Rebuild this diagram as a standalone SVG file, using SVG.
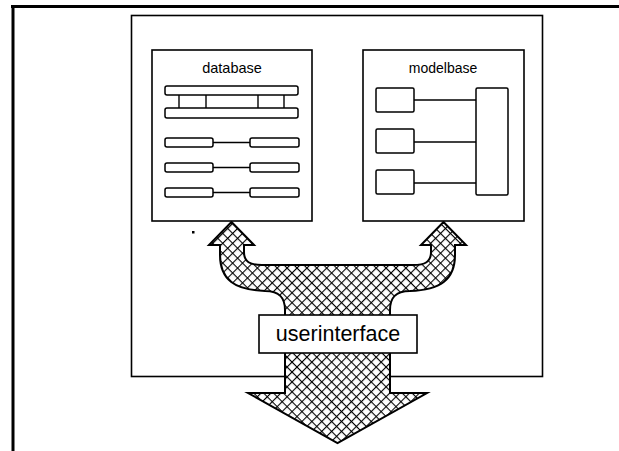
<svg xmlns="http://www.w3.org/2000/svg" width="619" height="451" viewBox="0 0 619 451">
<style>
.box{fill:#fff;stroke:#000;stroke-width:1.6}
.bar{fill:#fff;stroke:#000;stroke-width:1.5}
.ln{stroke:#000;stroke-width:1.4;fill:none}
.lbl{font-family:"Liberation Sans","DejaVu Sans",sans-serif;fill:#000;text-anchor:middle}
</style>
<defs>
<pattern id="hatch" width="7" height="7" patternUnits="userSpaceOnUse" patternTransform="rotate(45)">
<rect width="7" height="7" fill="#fff"/>
<line x1="0" y1="0" x2="7" y2="0" stroke="#000" stroke-width="2.2"/>
<line x1="0" y1="0" x2="0" y2="7" stroke="#000" stroke-width="2.2"/>
</pattern>
</defs>
<rect width="619" height="451" fill="#fff"/>
<g id="frame">
<line x1="11" y1="6.5" x2="619" y2="6.5" stroke="#000" stroke-width="3"/>
<line x1="13" y1="5" x2="13" y2="451" stroke="#000" stroke-width="3"/>
</g>
<g id="system">
<rect class="box" x="131.5" y="15.5" width="411" height="361"/>
</g>
<g id="connectors">
<path d="M231.5,222 L254,245 L244,245 L244,252 C244,262 250,265 262,265 L413,265 C425,265 431,262 431,252 L431,245 L421,245 L443.5,222 L466,245 L455,245 L455,255 C455,280 440,290 410,291 C395,291 390,298 390,310 L390,393 L427,393 L337.5,443 L248,393 L285,393 L285,310 C285,298 280,291 265,291 C235,290 220,280 220,255 L220,245 L209,245 Z" fill="url(#hatch)" stroke="#000" stroke-width="2" stroke-linejoin="miter"/>
</g>
<g id="database">
<rect class="box" x="152" y="50" width="160" height="171"/>
<text class="lbl" x="232" y="73" font-size="14.5">database</text>
<rect class="bar" x="165" y="86" width="133" height="9" rx="2"/>
<rect class="bar" x="165" y="108" width="133" height="10" rx="2"/>
<line class="ln" x1="179" y1="95" x2="179" y2="108"/>
<line class="ln" x1="206" y1="95" x2="206" y2="108"/>
<line class="ln" x1="258" y1="95" x2="258" y2="108"/>
<line class="ln" x1="284" y1="95" x2="284" y2="108"/>
<rect class="bar" x="165" y="138" width="48" height="9" rx="2"/>
<rect class="bar" x="250" y="138" width="49" height="9" rx="2"/>
<line class="ln" x1="213" y1="142.5" x2="250" y2="142.5"/>
<rect class="bar" x="165" y="163" width="48" height="9" rx="2"/>
<rect class="bar" x="250" y="163" width="49" height="9" rx="2"/>
<line class="ln" x1="213" y1="167.5" x2="250" y2="167.5"/>
<rect class="bar" x="165" y="188" width="48" height="9" rx="2"/>
<rect class="bar" x="250" y="188" width="49" height="9" rx="2"/>
<line class="ln" x1="213" y1="192.5" x2="250" y2="192.5"/>
</g>
<g id="modelbase">
<rect class="box" x="363" y="50" width="161" height="171"/>
<text class="lbl" x="443" y="73" font-size="14">modelbase</text>
<rect class="bar" x="376" y="88" width="38" height="24" rx="1.5"/>
<rect class="bar" x="376" y="129" width="38" height="24" rx="1.5"/>
<rect class="bar" x="376" y="170" width="38" height="24" rx="1.5"/>
<rect class="bar" x="476" y="88" width="32" height="107" rx="1.5"/>
<line class="ln" x1="414" y1="100" x2="476" y2="100"/>
<line class="ln" x1="414" y1="142" x2="476" y2="142"/>
<line class="ln" x1="414" y1="183" x2="476" y2="183"/>
</g>
<g id="userinterface">
<rect class="box" x="259" y="315" width="158" height="38"/>
<text class="lbl" x="338" y="341" font-size="21.5">userinterface</text>
</g>
<rect x="192" y="231" width="2.5" height="2.5" fill="#000"/>
</svg>
